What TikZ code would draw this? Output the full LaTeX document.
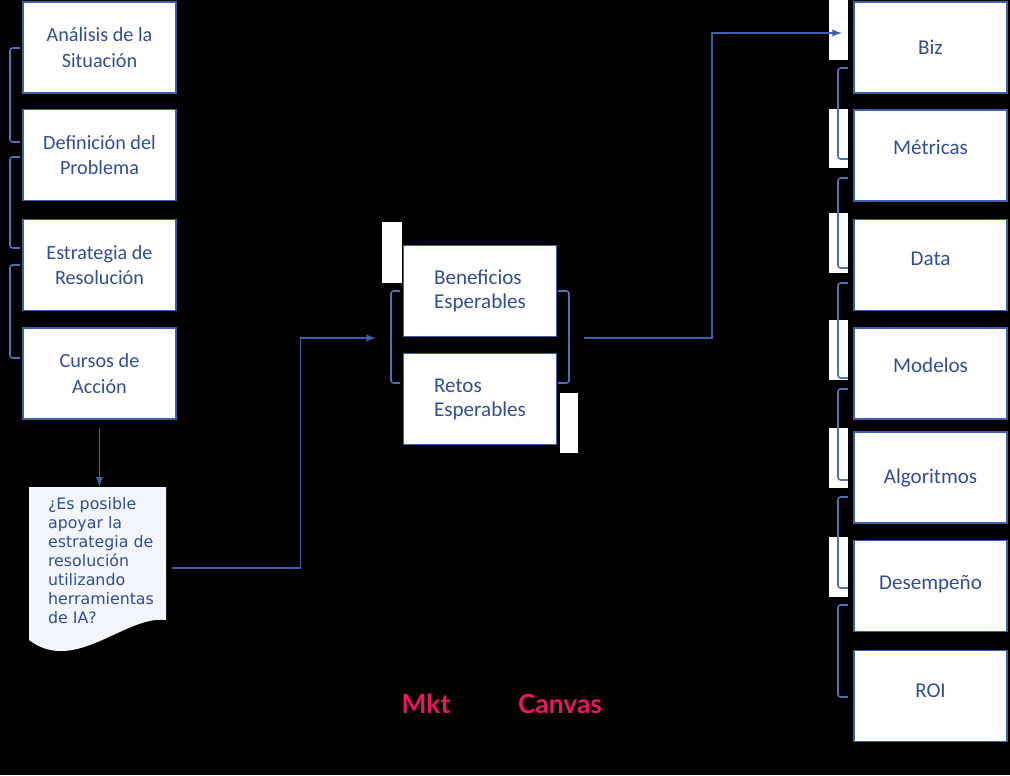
\documentclass[tikz,border=0pt]{standalone}
\usepackage{fontspec}
\setmainfont{Carlito}
\newfontfamily\docfont{DejaVu Sans}
\newfontfamily\mktfont{Lato}
\definecolor{boxblue}{RGB}{62,96,168}
\definecolor{txtblue}{RGB}{50,78,148}
\definecolor{docfill}{RGB}{242,245,251}
\definecolor{mktpink}{RGB}{233,22,96}
\newcommand{\liftby}[2]{\raisebox{#1}[\height][\depth]{#2}}

\begin{document}
\begin{tikzpicture}[x=0.02cm,y=-0.02cm,>=latex,
  box/.style={draw=boxblue,line width=1.1pt,fill=white,minimum width=3.06cm,minimum height=1.82cm,align=center,text=txtblue,font=\fontsize{11.5}{14.7}\selectfont},
  midbox/.style={box,align=left,font=\fontsize{12}{13.6}\selectfont},
  sidebox/.style={box,font=\fontsize{12}{14}\selectfont},
  conn/.style={draw=boxblue,line width=0.9pt,->},
  brk/.style={draw=boxblue!90!white,line width=0.9pt,rounded corners=1.5pt},
  blank/.style={fill=white}]
\fill[black] (0,0) rectangle (1010,775);
\useasboundingbox (0,0) rectangle (1010,775);

% left column
\node[box] (sit) at (99.5,47.5) {Análisis de la\\Situación};
\node[box] (prob) at (99.5,155) {Definición del\\Problema};
\node[box] (estr) at (99.5,265) {Estrategia de\\Resolución};
\node[box] (curs) at (99.5,373.5) {Cursos de\\Acción};
\draw[brk] (20,48) -- (10,48) -- (10,142) -- (20,142);
\draw[brk] (20,157) -- (10,157) -- (10,248) -- (20,248);
\draw[brk] (20,265) -- (10,265) -- (10,358) -- (20,358);

% question
\fill[docfill] (29,487) -- (166,487) -- (166,620) .. controls (125,615) and (75,675) .. (29,640) -- cycle;
\node[text=txtblue,align=left,minimum width=2.6cm,minimum height=2.96cm,font=\docfont\fontsize{9}{10.8}\selectfont] (doc) at (101,561) {¿Es posible\\apoyar la\\estrategia de\\resolución\\utilizando\\herramientas\\de IA?};
\draw[conn,shorten <=4.5pt] (curs.south) -- (curs.south |- doc.north);

% middle
\fill[blank] (382,222) rectangle (402,283);
\fill[blank] (560,393) rectangle (578,453);
\node[midbox] (ben) at (480,291) {Beneficios\\Esperables};
\node[midbox] (ret) at (480,399) {Retos\\Esperables};
\draw[brk] (400,291) -- (391,291) -- (391,383) -- (400,383);
\draw[brk] (558,291) -- (569,291) -- (569,383) -- (558,383);
\coordinate (midin) at (376,338);
\coordinate (midout) at (584,338);
\draw[conn] ([xshift=3.4pt,yshift=-3.9pt]doc.east) -- ++(128,0) |- (midin);

% right column
\fill[blank] (829,0) rectangle (848,60);
\fill[blank] (829,109) rectangle (848,168);
\fill[blank] (829,213) rectangle (848,273);
\fill[blank] (829,320) rectangle (848,380);
\fill[blank] (829,428) rectangle (848,488);
\fill[blank] (829,537) rectangle (848,597);
\node[sidebox] (biz) at (930.5,47.5) {Biz};
\node[sidebox] (met) at (930.5,155.5) {\liftby{4.5pt}{Métricas}};
\node[sidebox] (data) at (930.5,265) {\liftby{3.4pt}{Data}};
\node[sidebox] (mod) at (930.5,373.5) {\liftby{4.5pt}{Modelos}};
\node[sidebox] (alg) at (930.5,477.5) {Algoritmos};
\node[sidebox] (des) at (930.5,586) {\liftby{1.2pt}{Desempeño}};
\node[sidebox] (roi) at (930.5,696) {\liftby{2.8pt}{ROI}};
\draw[brk] (848,68) -- (838,68) -- (838,159) -- (848,159);
\draw[brk] (848,178) -- (838,178) -- (838,268) -- (848,268);
\draw[brk] (848,283) -- (838,283) -- (838,378) -- (848,378);
\draw[brk] (848,389) -- (838,389) -- (838,480) -- (848,480);
\draw[brk] (848,497) -- (838,497) -- (838,588) -- (848,588);
\draw[brk] (848,605) -- (838,605) -- (838,697) -- (848,697);
\coordinate (bizin) at (842,33);
\draw[conn] (midout) -- ++(128,0) |- (bizin);

% caption
\node[text=mktpink,font=\mktfont\bfseries\fontsize{15}{18}\selectfont] (mkt) at (426,704) {Mkt};
\node[text=mktpink,font=\mktfont\bfseries\fontsize{15}{18}\selectfont] (canvas) at (560,704) {Canvas};
\end{tikzpicture}
\end{document}
